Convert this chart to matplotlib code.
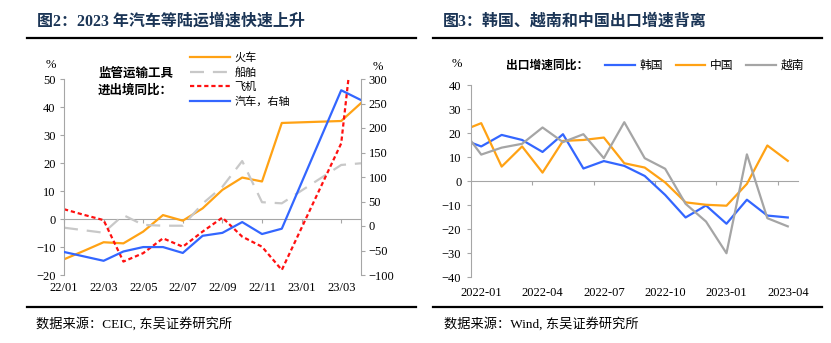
import numpy as np
import matplotlib.pyplot as plt
from matplotlib.lines import Line2D

plt.rcParams['font.family'] = ['Liberation Serif', 'Noto Sans CJK SC']

# ---- 图2: 监管运输工具进出境同比 (%) ----
left_months = ['22/01', '22/02', '22/03', '22/04', '22/05', '22/06', '22/07', '22/08',
               '22/09', '22/10', '22/11', '22/12', '23/01', '23/02', '23/03', '23/04']
# 23/01 and 23/02 are reported together, no separate point
left_obs = ['22/01', '22/02', '22/03', '22/04', '22/05', '22/06', '22/07', '22/08',
            '22/09', '22/10', '22/11', '22/12', '23/03', '23/04']
train = [-14.4, -11.4, -8.3, -8.7, -4.5, 1.4, -0.6, 3.8, 10.4, 14.8, 13.4, 34.3, 35.0, 41.4]
ship = [-3.1, -4.0, -4.9, 1.4, -2.1, -2.4, -2.4, 5.5, 11.5, 20.7, 6.0, 5.6, 19.3, 19.9]
plane = [3.5, 1.5, -0.4, -15.2, -12.2, -6.9, -9.9, -4.5, 0.5, -6.3, -9.9, -18.2, 27.0, 90.0]
car = [-53, -62, -71, -52, -43, -43, -55, -20, -14, 8, -16.4, -5.5, 277, 257]  # 右轴

# ---- 图3: 出口增速同比 (%) ----
right_months = ['2021-12', '2022-01', '2022-02', '2022-03', '2022-04', '2022-05', '2022-06',
                '2022-07', '2022-08', '2022-09', '2022-10', '2022-11', '2022-12', '2023-01',
                '2023-02', '2023-03', '2023-04']
korea = [17.6, 14.4, 19.2, 17.1, 12.1, 19.5, 5.2, 8.3, 6.3, 2.1, -5.8, -15.2, -10.2, -17.8, -7.8, -14.4, -15.2]
china = [20.7, 24.1, 6.0, 14.4, 3.5, 16.7, 17.1, 18.1, 7.4, 5.6, -0.6, -8.9, -9.9, -10.3, -1.2, 14.8, 8.4]
vietnam = [22.4, 11.0, 13.9, 15.5, 22.3, 16.2, 19.5, 9.5, 24.5, 9.5, 5.1, -9.5, -16.9, -30.1, 11.1, -15.5, -18.9]

ORANGE = '#FFA214'
BLUE = '#3366FF'
RED = '#FF1010'
GREY_AX = '#A6A6A6'
NAVY = '#1B3556'

W, H = 831, 343
def fx(px):
    return px / W
def fy(py):
    return 1 - py / H

fig = plt.figure(figsize=(8.31, 3.43), dpi=100)

# ---------------- left chart ----------------
ax = fig.add_axes([fx(64), fy(275), fx(361) - fx(64), fy(79) - fy(275)])
ax2 = ax.twinx()
xl = [left_months.index(m) for m in left_obs]

l1, = ax.plot(xl, train, color=ORANGE, lw=1.6, label='火车')
l2, = ax.plot(xl, ship, color='#C8C8C8', lw=1.6, dashes=(6.3, 4), label='船舶')
l3, = ax.plot(xl, plane, color=RED, lw=1.6, dashes=(1.9, 1.3), label='飞机')
l4, = ax2.plot(xl, car, color=BLUE, lw=1.6, label='汽车，右轴')

ax.set_xlim(0, 15)
ax.set_ylim(-20, 50)
ax2.set_ylim(-100, 300)
ax.set_yticks(np.arange(-20, 51, 10))
ax2.set_yticks(np.arange(-100, 301, 50))
ax.set_xticks(range(0, 16, 2))
ax.set_xticklabels(left_months[::2])
ax.tick_params(axis='x', length=0, pad=5, labelsize=9)
ax.tick_params(axis='y', direction='out', length=3, pad=3, color=GREY_AX, labelsize=9)
ax2.tick_params(axis='y', direction='out', length=3, pad=2.5, color=GREY_AX, labelsize=9)
for a in (ax, ax2):
    a.spines['top'].set_visible(False)
    a.spines['bottom'].set_visible(False)
    a.spines['left'].set_color(GREY_AX)
    a.spines['right'].set_color(GREY_AX)
    a.patch.set_visible(False)
ax.spines['right'].set_visible(False)
ax2.spines['left'].set_visible(False)

zero_l = ax.secondary_xaxis(20 / 70)
zero_l.set_alignment('bottom')
zero_l.set_xticks(range(0, 16, 2))
zero_l.spines['bottom'].set_color(GREY_AX)
zero_l.tick_params(axis='x', direction='out', length=3, color=GREY_AX, labelbottom=False)

ax.legend(handles=[l1, l2, l3, l4], loc='upper left', bbox_to_anchor=(fx(190), fy(52)),
          bbox_transform=fig.transFigure, frameon=False, fontsize=8, borderpad=0,
          borderaxespad=0, handlelength=3.6, handletextpad=0.4, labelspacing=0.38)
fig.text(fx(98), fy(82), '监管运输工具\n进出境同比：', fontsize=9, fontweight='bold',
         va='center', ha='left', linespacing=1.45)
fig.text(fx(51), fy(65), '%', fontsize=9, ha='center', va='center')
fig.text(fx(378), fy(67), '%', fontsize=9, ha='center', va='center')

# ---------------- right chart ----------------
bx = fig.add_axes([fx(471), fy(277), fx(798) - fx(471), fy(85) - fy(277)])
xr = np.arange(len(right_months))
k1, = bx.plot(xr, korea, color=BLUE, lw=1.6, label='韩国')
k2, = bx.plot(xr, china, color=ORANGE, lw=1.6, label='中国')
k3, = bx.plot(xr, vietnam, color='#A5A5A5', lw=1.6, label='越南')
bx.set_xlim(0.5, 16.5)
bx.set_ylim(-40, 40)
bx.set_yticks(np.arange(-40, 41, 10))
bx.set_xticks(range(1, 17, 3))
bx.set_xticklabels(right_months[1::3])
bx.tick_params(axis='x', length=0, pad=7, labelsize=9)
bx.tick_params(axis='y', direction='out', length=3, pad=4, color=GREY_AX, labelsize=9)
for s in ('top', 'bottom', 'right'):
    bx.spines[s].set_visible(False)
bx.spines['left'].set_color(GREY_AX)

zero_r = bx.secondary_xaxis(0.5)
zero_r.set_alignment('bottom')
zero_r.set_xticks(np.arange(3.5, 16, 3))
zero_r.spines['bottom'].set_color(GREY_AX)
zero_r.tick_params(axis='x', direction='out', length=3, color=GREY_AX, labelbottom=False)

bx.legend(handles=[k1, k2, k3], loc='center left', bbox_to_anchor=(fx(605), fy(66)),
          bbox_transform=fig.transFigure, frameon=False, fontsize=8.5, ncol=3, borderpad=0,
          borderaxespad=0, handlelength=2.5, handletextpad=0.4, columnspacing=1.1)
fig.text(fx(506), fy(66), '出口增速同比：', fontsize=8.5, fontweight='bold', va='center', ha='left')
fig.text(fx(457), fy(64), '%', fontsize=9, ha='center', va='center')

# ---------------- titles, rules, sources ----------------
fig.text(fx(37), fy(22), '图2：2023 年汽车等陆运增速快速上升', fontsize=11.5, fontweight='bold',
         color=NAVY, va='center', ha='left')
fig.text(fx(443), fy(22), '图3：韩国、越南和中国出口增速背离', fontsize=11.5, fontweight='bold',
         color=NAVY, va='center', ha='left')
for x0, x1 in ((27, 416), (433, 822)):
    fig.add_artist(Line2D([fx(x0), fx(x1)], [fy(38), fy(38)], transform=fig.transFigure,
                          color='black', lw=1.6))
    fig.add_artist(Line2D([fx(x0), fx(x1)], [fy(307), fy(307)], transform=fig.transFigure,
                          color='black', lw=1.6))
fig.text(fx(36), fy(324), '数据来源：CEIC, 东吴证券研究所', fontsize=9.5, va='center', ha='left')
fig.text(fx(444), fy(324), '数据来源：Wind, 东吴证券研究所', fontsize=9.5, va='center', ha='left')

fig.savefig('out.png', dpi=100)
